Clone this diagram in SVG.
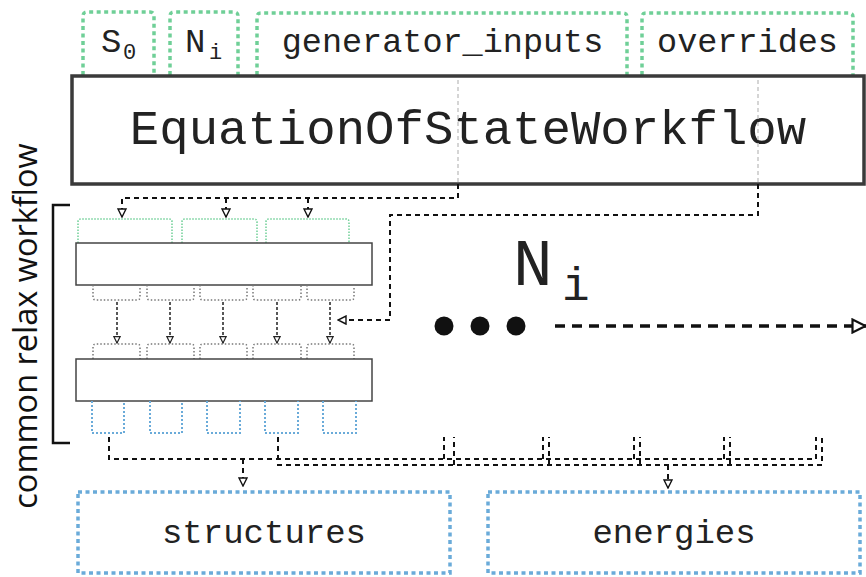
<svg xmlns="http://www.w3.org/2000/svg" width="866" height="577" viewBox="0 0 866 577">
  <defs>
    <style>
      .mono { font-family: "Liberation Mono", "Courier New", monospace; fill: #222; }
      .sans { font-family: "Open Sans", "Noto Sans", sans-serif; fill: #111; }
      .in-port { fill: none; stroke: #6fcf97; stroke-width: 3.5; stroke-dasharray: 4 3.5; }
      .out-port { fill: none; stroke: #6aabd9; stroke-width: 3.5; stroke-dasharray: 4 3.5; }
      .in-small { fill: none; stroke: #6fcf97; stroke-width: 1.5; stroke-dasharray: 1.5 1.5; }
      .mid-small { fill: none; stroke: #777; stroke-width: 1.5; stroke-dasharray: 1.5 2; }
      .out-small { fill: none; stroke: #6aabd9; stroke-width: 2; stroke-dasharray: 2 2; }
      .wf { fill: #fff; stroke: #3a3a3a; stroke-width: 3.5; }
      .step { fill: #fff; stroke: #444; stroke-width: 1.5; }
      .guide { fill: none; stroke: #c8c8c8; stroke-width: 1.5; stroke-dasharray: 4 3; }
      .link { fill: none; stroke: #111; stroke-width: 2; stroke-dasharray: 5 4; }
      .link-thin { fill: none; stroke: #222; stroke-width: 1.5; stroke-dasharray: 3 2; }
      .link-big { fill: none; stroke: #111; stroke-width: 3.5; stroke-dasharray: 10 7; }
    </style>
    <marker id="tri" viewBox="0 0 10 10" refX="9" refY="5" markerWidth="10" markerHeight="10" markerUnits="userSpaceOnUse" orient="auto">
      <path d="M1,1 L9,5 L1,9 z" fill="#fff" stroke="#111" stroke-width="1.4"/>
    </marker>
    <marker id="tri-s" viewBox="0 0 10 10" refX="9" refY="5" markerWidth="8" markerHeight="8" markerUnits="userSpaceOnUse" orient="auto">
      <path d="M1,1 L9,5 L1,9 z" fill="#fff" stroke="#222" stroke-width="1.5"/>
    </marker>
    <marker id="tri-b" viewBox="0 0 16 16" refX="15" refY="8" markerWidth="16" markerHeight="16" markerUnits="userSpaceOnUse" orient="auto">
      <path d="M1.5,1.5 L14.5,8 L1.5,14.5 z" fill="#fff" stroke="#111" stroke-width="2.2"/>
    </marker>
  </defs>

  <!-- workflow inputs -->
  <g id="input-S0">
    <path class="in-port" d="M83,75 V16 Q83,12 87,12 H150 Q154,12 154,16 V75"/>
    <text class="mono" x="101" y="52" font-size="34">S</text>
    <text class="mono" x="123" y="59" font-size="22">0</text>
  </g>
  <g id="input-Ni">
    <path class="in-port" d="M170,75 V16 Q170,12 174,12 H234 Q238,12 238,16 V75"/>
    <text class="mono" x="185" y="52" font-size="34">N</text>
    <text class="mono" x="209" y="59" font-size="22">i</text>
  </g>
  <g id="input-generator-inputs">
    <path class="in-port" d="M257,75 V17 Q257,13 261,13 H623 Q627,13 627,17 V75"/>
    <text class="mono" x="442.5" y="52" font-size="33.5" text-anchor="middle">generator_inputs</text>
  </g>
  <g id="input-overrides">
    <path class="in-port" d="M642,75 V17 Q642,13 646,13 H849 Q853,13 853,17 V75"/>
    <text class="mono" x="747.5" y="52" font-size="33.5" text-anchor="middle">overrides</text>
  </g>

  <!-- outer workflow -->
  <g id="eos-workflow">
    <rect class="wf" x="72" y="76" width="792" height="108"/>
    <text class="mono" x="468" y="144" font-size="49" text-anchor="middle">EquationOfStateWorkflow</text>
    <path class="guide" d="M458,80 V182 M758,80 V182"/>
  </g>

  <!-- relax sub-workflow label and bracket -->
  <g id="relax-label">
    <text class="sans" transform="translate(37,326) rotate(-90)" font-size="32.5" text-anchor="middle">common relax workflow</text>
    <path d="M70,205 H53 V443 H70" fill="none" stroke="#111" stroke-width="2.5"/>
  </g>

  <g id="relax-step-1">
    <path class="in-small" d="M78,243 V222 Q78,219 81,219 H169 Q172,219 172,222 V243"/>
    <path class="in-small" d="M182,243 V222 Q182,219 185,219 H254 Q257,219 257,222 V243"/>
    <path class="in-small" d="M266,243 V222 Q266,219 269,219 H346 Q349,219 349,222 V243"/>
    <rect class="step" x="76" y="243" width="296" height="42"/>
    <path class="mid-small" d="M93,285 V297 Q93,300 96,300 H137 Q140,300 140,297 V285"/>
    <path class="mid-small" d="M147,285 V297 Q147,300 150,300 H191 Q194,300 194,297 V285"/>
    <path class="mid-small" d="M200,285 V297 Q200,300 203,300 H244 Q247,300 247,297 V285"/>
    <path class="mid-small" d="M253,285 V297 Q253,300 256,300 H298 Q301,300 301,297 V285"/>
    <path class="mid-small" d="M307,285 V297 Q307,300 310,300 H351 Q354,300 354,297 V285"/>
  </g>

  <g id="relax-step-2">
    <path class="mid-small" d="M93,359 V347 Q93,344 96,344 H137 Q140,344 140,347 V359"/>
    <path class="mid-small" d="M147,359 V347 Q147,344 150,344 H191 Q194,344 194,347 V359"/>
    <path class="mid-small" d="M200,359 V347 Q200,344 203,344 H244 Q247,344 247,347 V359"/>
    <path class="mid-small" d="M253,359 V347 Q253,344 256,344 H298 Q301,344 301,347 V359"/>
    <path class="mid-small" d="M307,359 V347 Q307,344 310,344 H351 Q354,344 354,347 V359"/>
    <rect class="step" x="76" y="359" width="296" height="42"/>
    <path class="out-small" d="M92,401 V433 H124 V401"/>
    <path class="out-small" d="M150,401 V433 H182 V401"/>
    <path class="out-small" d="M207,401 V433 H240 V401"/>
    <path class="out-small" d="M265,401 V433 H298 V401"/>
    <path class="out-small" d="M323,401 V433 H356 V401"/>
  </g>

  <!-- parallel repetition marker -->
  <g id="repeat-Ni">
    <text class="mono" x="513" y="285" font-size="66">N</text>
    <text class="mono" x="562" y="300" font-size="46">i</text>
    <circle cx="444" cy="326" r="9.5" fill="#111"/>
    <circle cx="480" cy="326" r="9.5" fill="#111"/>
    <circle cx="516" cy="326" r="9.5" fill="#111"/>
  </g>

  <!-- workflow outputs -->
  <g id="output-structures">
    <rect class="out-port" x="78" y="492" width="372" height="81"/>
    <text class="mono" x="264" y="543" font-size="34" text-anchor="middle">structures</text>
  </g>
  <g id="output-energies">
    <rect class="out-port" x="488" y="492" width="372" height="81"/>
    <text class="mono" x="674" y="543" font-size="34" text-anchor="middle">energies</text>
  </g>

  <!-- connectors -->
  <g id="connectors">
    <path class="link" d="M458,184 V198 H122 V217" marker-end="url(#tri)"/>
    <path class="link" d="M226,198 V217" marker-end="url(#tri)"/>
    <path class="link" d="M308,198 V217" marker-end="url(#tri)"/>
    <path class="link" d="M758,184 V215 H390 V320 H338" marker-end="url(#tri)"/>

    <path class="link-thin" d="M117,302 V343" marker-end="url(#tri-s)"/>
    <path class="link-thin" d="M170,302 V343" marker-end="url(#tri-s)"/>
    <path class="link-thin" d="M223,302 V343" marker-end="url(#tri-s)"/>
    <path class="link-thin" d="M277,302 V343" marker-end="url(#tri-s)"/>
    <path class="link-thin" d="M330,302 V343" marker-end="url(#tri-s)"/>

    <path class="link-big" d="M555,326 H866" marker-end="url(#tri-b)"/>

    <path class="link" d="M109,437 V459 H816 V437 M444,459 V437 M543,459 V437 M634,459 V437 M724,459 V437"/>
    <path class="link" d="M243,459 V486" marker-end="url(#tri)"/>
    <path class="link" d="M278,437 V465 H822 V437 M454,465 V437 M549,465 V437 M640,465 V437 M730,465 V437"/>
    <path class="link" d="M668,465 V488" marker-end="url(#tri)"/>
  </g>
</svg>
